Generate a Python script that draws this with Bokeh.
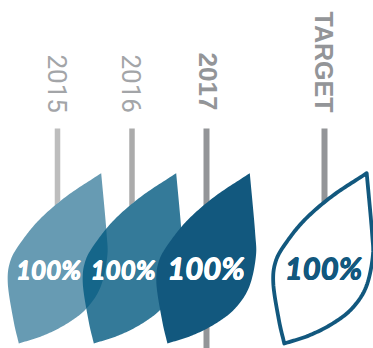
import numpy as np
from bokeh.plotting import figure
from bokeh.models import Range1d
from bokeh.core.properties import value
from bokeh.embed import file_html
from bokeh.resources import INLINE

W, H = 373, 348

# Chart content
categories = ["2015", "2016", "2017", "TARGET"]
scores = [100, 100, 100, 100]
score_labels = [f"{s}%" for s in scores]

# Layout in page pixels
stem_x = [57, 131.5, 206, 324]
stem_width = [5.5, 5.5, 6, 6]
leaf_shift = [0, 75, 148.6, 265.5]
label_x = [56.5, 130.5, 207, 323]
label_top = [54, 54, 52, 11]
label_size = ["26px", "26px", "26px", "25px"]
score_x = [48, 122.5, 205.5, 323]
score_y = [269, 269, 267, 267]
score_size = ["26px", "26px", "31px", "31px"]
score_color = ["white", "white", "white", "#12587e"]
label_font = ["Roboto", "Roboto", "Liberation Sans", "Liberation Sans"]
label_style = ["normal", "normal", "bold", "bold"]
label_color = ["#a3a5a8", "#a3a5a8", "#939598", "#939598"]
stem_color = ["#bdbdbd", "#ababab", "#939598", "#939598"]
leaf_color = ["#015980", "#015980", "#12587e", "#12587e"]
leaf_alpha = [0.6, 0.8, 1.0, 0.0]
STEM_TOP = 128
HEAVY_OFFSETS = [(-0.45, 0), (0.45, 0), (0, -0.35), (0, 0.35)]

# Leaf outline for the 100% reference height: tip to foot along each side
upper_side = np.array([(100.7, 172.7), (67, 195), (40, 218), (21.7, 240), (10, 260),
                       (7.3, 283), (13, 320), (18.3, 343)])
lower_side = np.array([(18.3, 343), (43, 335), (66.7, 323), (86, 308), (100, 286.7),
                       (106.7, 256.7), (106, 231.7), (100.7, 172.7)])


def smooth(points, samples=16):
    """Catmull-Rom curve through the given points."""
    pts = np.vstack([2 * points[0] - points[1], points, 2 * points[-1] - points[-2]])
    out = []
    for i in range(1, len(pts) - 2):
        a, b, c, d = pts[i - 1], pts[i], pts[i + 1], pts[i + 2]
        for t in np.linspace(0, 1, samples, endpoint=False):
            out.append(0.5 * (2 * b + (c - a) * t + (2 * a - 5 * b + 4 * c - d) * t ** 2
                              + (3 * b - a - 3 * c + d) * t ** 3))
    out.append(pts[-2])
    return np.array(out)


upper_curve = smooth(upper_side)
lower_curve = smooth(lower_side)
leaf = np.vstack([upper_curve, lower_curve[1:-1]])

p = figure(width=W, height=H, x_range=Range1d(0, W), y_range=Range1d(H, 0),
           output_backend="svg", toolbar_location=None, min_border=0,
           outline_line_color=None, background_fill_color="white")
p.axis.visible = False
p.grid.visible = False

# Stems stop on the leaf edge, except 2017, which runs on behind its opaque leaf
for i, cat in enumerate(categories):
    left, right = stem_x[i] - stem_width[i] / 2, stem_x[i] + stem_width[i] / 2
    if cat == "2017":
        y_left = y_right = H
    else:
        order = np.argsort(upper_curve[:, 0] + leaf_shift[i])
        xs, ys = (upper_curve[:, 0] + leaf_shift[i])[order], upper_curve[:, 1][order]
        y_left, y_right = np.interp([left, right], xs, ys)
    p.patch([left, right, right, left], [STEM_TOP, STEM_TOP, y_right, y_left],
            fill_color=stem_color[i], line_color=None)

# Leaves, in drawing order; the blue accumulates where translucent ones overlap
for i, cat in enumerate(categories):
    scale = scores[i] / 100
    foot = leaf[:, 1].max()
    lx = leaf[:, 0] + leaf_shift[i]
    ly = foot - (foot - leaf[:, 1]) * scale
    if cat == "TARGET":
        p.patch(lx, ly, fill_color="white", line_color=leaf_color[i], line_width=3.8,
                line_join="round")
    else:
        p.patch(lx, ly, fill_color=leaf_color[i], fill_alpha=leaf_alpha[i], line_color=None)

for i, cat in enumerate(categories):
    p.text([label_x[i]], [label_top[i]], text=[cat], angle=-np.pi / 2,
           text_font=value(label_font[i]), text_font_style=label_style[i],
           text_font_size=label_size[i], text_color=label_color[i],
           text_align="left", text_baseline="middle")
    # The percentage is over-struck a few times to get its heavy, inked look
    for dx, dy in HEAVY_OFFSETS:
        p.text([score_x[i] + dx], [score_y[i] + dy], text=[score_labels[i]],
               text_font=value("Lato"), text_font_style="bold italic",
               text_font_size=score_size[i], text_color=score_color[i],
               text_align="center", text_baseline="middle")

open("out.html", "w").write(file_html(p, INLINE))
